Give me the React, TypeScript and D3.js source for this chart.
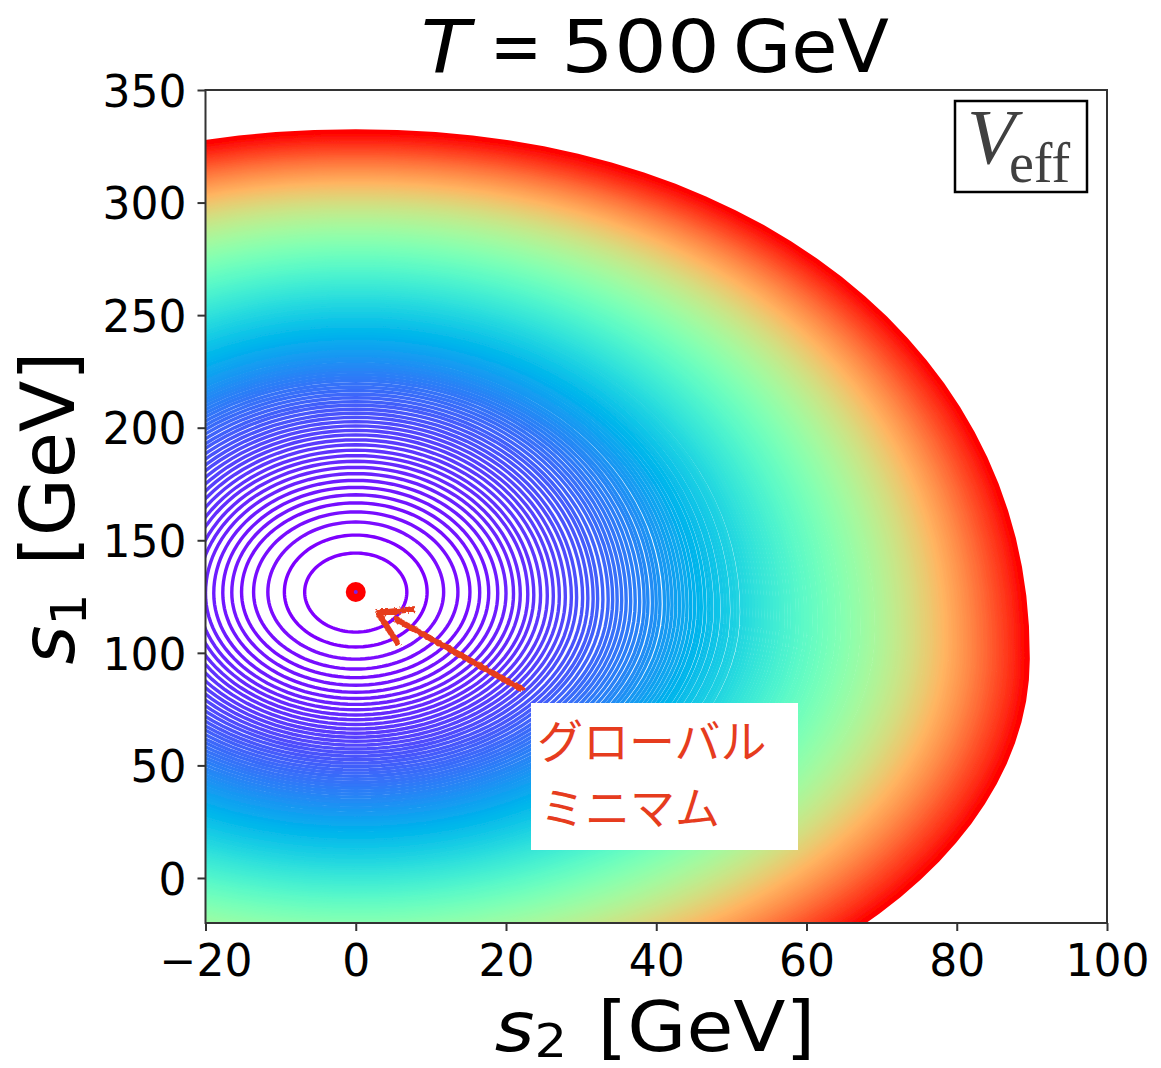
import React, { useRef, useEffect } from "react";
import * as d3 from "d3";

const WIDTH = 1161;
const HEIGHT = 1068;
const margin = { left: 205.5, right: 1107, top: 90, bottom: 923 };

const xDomain = [-20, 100];
const yDomain = [-20, 350];
const xTicks = [-20, 0, 20, 40, 60, 80, 100];
const yTicks = [0, 50, 100, 150, 200, 250, 300, 350];

// contour rings, innermost first: half width in s2 (GeV)
const ringHalfWidth = [
  6.8, 9.5, 11.7, 13.6, 15.2, 16.5, 17.7, 18.9, 20.0, 21.0,
  21.9, 22.9, 23.7, 24.6, 25.5, 26.3, 27.1, 27.9, 28.7, 29.4,
  30.2, 30.9, 31.6, 32.2, 32.9, 33.6, 34.2, 34.8, 35.4, 36.0,
  36.6, 37.2, 37.8, 38.4, 38.9, 39.5, 40.0, 40.5, 41.1, 41.6,
  42.1, 42.6, 43.1, 43.6, 44.1, 44.6, 45.1, 45.6, 46.0, 46.5,
  47.0, 47.4, 47.9, 48.3, 48.8, 49.2, 49.6, 50.1, 50.5, 50.9,
  51.4, 51.8, 52.2, 52.6, 53.0, 53.4, 53.8, 54.2, 54.6, 55.0,
  55.4, 55.8, 56.2, 56.6, 56.9, 57.3, 57.7, 58.1, 58.4, 58.8,
  59.2, 59.5, 59.9, 60.3, 60.6, 61.0, 61.3, 61.7, 62.0, 62.4,
  62.7, 63.1, 63.4, 63.7, 64.1, 64.4, 64.8, 65.1, 65.4, 65.7,
  66.1, 66.4, 66.7, 67.0, 67.4, 67.7, 68.0, 68.3, 68.6, 68.9,
  69.3, 69.6, 69.9, 70.2, 70.5, 70.8, 71.1, 71.4, 71.7, 72.0,
  72.3, 72.6, 72.9, 73.2, 73.5, 73.8, 74.1, 74.4, 74.7, 75.0,
  75.3, 75.5, 75.8, 76.1, 76.4, 76.7, 77.0, 77.2, 77.5, 77.8,
  78.1, 78.3, 78.6, 78.8, 79.1, 79.3, 79.6, 79.8, 80.1, 80.3,
  80.6, 80.8, 81.1, 81.3, 81.6, 81.8, 82.1, 82.3, 82.6, 82.8,
  83.0, 83.3, 83.5, 83.8, 84.0, 84.3, 84.5, 84.7, 85.0, 85.2,
  85.5, 85.7, 85.9, 86.2, 86.4, 86.6, 86.9, 87.1, 87.3, 87.6,
  87.8, 88.0, 88.2, 88.4, 88.6, 88.7, 88.9, 89.1, 89.3, 89.5,
];

// highest s1 of each ring (GeV)
const ringTop = [
  144.3, 152.3, 158.1, 162.6, 166.6, 170.2, 173.5, 176.6, 179.6, 182.4,
  185.1, 187.6, 190.0, 192.4, 194.6, 196.8, 198.8, 200.8, 202.7, 204.6,
  206.4, 208.2, 210.0, 211.6, 213.3, 214.9, 216.5, 218.0, 219.5, 221.0,
  222.3, 223.6, 224.9, 226.1, 227.3, 228.5, 229.7, 230.9, 232.1, 233.2,
  234.3, 235.4, 236.5, 237.6, 238.7, 239.8, 240.9, 242.0, 243.1, 244.2,
  245.2, 246.3, 247.3, 248.4, 249.4, 250.4, 251.4, 252.3, 253.3, 254.2,
  255.2, 256.1, 257.0, 257.9, 258.8, 259.7, 260.5, 261.4, 262.2, 263.1,
  263.9, 264.7, 265.5, 266.3, 267.1, 267.9, 268.6, 269.4, 270.1, 270.9,
  271.6, 272.3, 273.1, 273.8, 274.5, 275.2, 275.9, 276.5, 277.2, 277.9,
  278.6, 279.2, 279.9, 280.6, 281.2, 281.8, 282.5, 283.1, 283.7, 284.3,
  284.9, 285.6, 286.2, 286.8, 287.4, 288.0, 288.6, 289.2, 289.8, 290.4,
  291.0, 291.6, 292.2, 292.8, 293.4, 294.0, 294.6, 295.2, 295.8, 296.4,
  297.0, 297.6, 298.1, 298.7, 299.3, 299.9, 300.4, 301.0, 301.6, 302.1,
  302.7, 303.3, 303.8, 304.4, 304.9, 305.5, 306.0, 306.6, 307.1, 307.7,
  308.2, 308.8, 309.3, 309.8, 310.3, 310.8, 311.3, 311.8, 312.3, 312.8,
  313.3, 313.8, 314.3, 314.8, 315.3, 315.8, 316.3, 316.8, 317.3, 317.8,
  318.3, 318.8, 319.3, 319.8, 320.2, 320.7, 321.2, 321.6, 322.1, 322.6,
  323.0, 323.5, 324.0, 324.4, 324.9, 325.4, 325.8, 326.3, 326.8, 327.2,
  327.7, 328.2, 328.6, 329.1, 329.6, 330.0, 330.5, 330.9, 331.4, 331.8,
];

// lowest s1 of each ring (GeV), the outer ones run below the frame
const ringBottom = [
  109.2, 102.6, 97.2, 92.8, 89.0, 85.6, 82.5, 79.7, 77.1, 74.7,
  72.4, 70.3, 68.2, 66.2, 64.3, 62.5, 60.7, 59.0, 57.3, 55.7,
  54.1, 52.5, 51.0, 49.5, 48.0, 46.6, 45.2, 43.8, 42.4, 41.1,
  39.8, 38.5, 37.2, 35.9, 34.7, 33.5, 32.3, 31.1, 30.0, 28.8,
  27.7, 26.6, 25.5, 24.4, 23.3, 22.2, 21.1, 20.0, 19.0, 17.9,
  16.9, 15.8, 14.8, 13.7, 12.7, 11.7, 10.7, 9.8, 8.9, 8.0,
  7.1, 6.2, 5.4, 4.5, 3.7, 2.8, 2.0, 1.2, 0.4, -0.4,
  -1.2, -2.0, -2.8, -3.6, -4.3, -5.1, -5.8, -6.5, -7.3, -8.0,
  -8.7, -9.4, -10.1, -10.8, -11.5, -12.2, -12.9, -13.6, -14.3, -15.0,
  -15.6, -16.3, -17.0, -17.7, -18.4, -19.1, -19.7, -20.4, -21.1, -21.7,
  -22.4, -23.1, -23.7, -24.4, -25.1, -25.7, -26.4, -27.1, -27.7, -28.4,
  -29.1, -29.7, -30.4, -31.1, -31.7, -32.4, -33.1, -33.7, -34.4, -35.1,
  -35.7, -36.4, -37.1, -37.7, -38.4, -39.1, -39.7, -40.4, -41.1, -41.7,
  -42.4, -43.1, -43.7, -44.4, -45.1, -45.7, -46.4, -47.1, -47.7, -48.4,
  -49.1, -49.7, -50.4, -51.1, -51.7, -52.4, -53.1, -53.7, -54.4, -55.1,
  -55.7, -56.4, -57.1, -57.7, -58.4, -59.1, -59.7, -60.4, -61.1, -61.7,
  -62.4, -63.1, -63.7, -64.4, -65.1, -65.7, -66.4, -67.1, -67.7, -68.4,
  -69.1, -69.7, -70.4, -71.1, -71.7, -72.4, -73.1, -73.7, -74.4, -75.1,
  -75.7, -76.4, -77.1, -77.7, -78.4, -79.1, -79.7, -80.4, -81.1, -81.7,
];

// s1 where each ring is widest (GeV)
const ringWaist = [
  127.0, 127.0, 127.0, 127.0, 127.0, 126.8, 126.7, 126.5, 126.4, 126.2,
  126.0, 125.9, 125.7, 125.6, 125.4, 125.2, 125.1, 124.9, 124.8, 124.6,
  124.4, 124.3, 124.1, 124.0, 123.8, 123.6, 123.5, 123.3, 123.2, 123.0,
  122.8, 122.7, 122.5, 122.4, 122.2, 122.0, 121.9, 121.7, 121.6, 121.4,
  121.2, 121.1, 120.9, 120.8, 120.6, 120.4, 120.3, 120.1, 120.0, 119.8,
  119.6, 119.5, 119.3, 119.2, 119.0, 118.8, 118.7, 118.5, 118.4, 118.2,
  118.0, 117.9, 117.7, 117.6, 117.4, 117.2, 117.1, 116.9, 116.8, 116.6,
  116.4, 116.3, 116.1, 116.0, 115.8, 115.6, 115.5, 115.3, 115.2, 115.0,
  114.8, 114.7, 114.5, 114.4, 114.2, 114.0, 113.9, 113.7, 113.6, 113.4,
  113.2, 113.1, 112.9, 112.8, 112.6, 112.4, 112.3, 112.1, 112.0, 111.8,
  111.6, 111.5, 111.3, 111.2, 111.0, 110.8, 110.7, 110.5, 110.4, 110.2,
  110.0, 109.9, 109.7, 109.6, 109.4, 109.2, 109.1, 108.9, 108.8, 108.6,
  108.4, 108.3, 108.1, 108.0, 107.8, 107.6, 107.5, 107.3, 107.2, 107.0,
  106.8, 106.7, 106.5, 106.4, 106.2, 106.0, 105.9, 105.7, 105.6, 105.4,
  105.2, 105.1, 104.9, 104.8, 104.6, 104.4, 104.3, 104.1, 104.0, 103.8,
  103.6, 103.5, 103.3, 103.2, 103.0, 102.8, 102.7, 102.5, 102.4, 102.2,
  102.0, 101.9, 101.7, 101.6, 101.4, 101.2, 101.1, 100.9, 100.8, 100.6,
  100.4, 100.3, 100.1, 100.0, 99.8, 99.6, 99.5, 99.3, 99.2, 99.0,
  98.8, 98.7, 98.5, 98.4, 98.2, 98.0, 97.9, 97.7, 97.6, 97.4,
];

const globalMinimum = [0, 127];

// hand drawn arrow, in data units
const arrowShaft = [
  [22.3, 83.5],
  [5.0, 115.5],
];
const arrowHead = [
  [7.9, 119.5],
  [3.0, 117.7],
  [5.7, 103.5],
];

const noteLines = ["グローバル", "ミニマム"];
const angles = d3.range(0, 120).map((i) => (i / 120) * 2 * Math.PI);

// matplotlib's "rainbow" colormap
const rainbow = (t: number) =>
  d3
    .rgb(
      255 * Math.min(1, Math.abs(2 * t - 0.5)),
      255 * Math.sin(Math.PI * t),
      255 * Math.cos((Math.PI * t) / 2)
    )
    .formatRgb();

const App = () => {
  const d3Container = useRef<SVGSVGElement | null>(null);

  useEffect(() => {
    if (!d3Container.current) return;
    const svg = d3.select(d3Container.current);
    svg.selectAll("*").remove();

    const x = d3.scaleLinear().domain(xDomain).range([margin.left, margin.right]);
    const y = d3.scaleLinear().domain(yDomain).range([margin.bottom, margin.top]);

    const defs = svg.append("defs");
    defs
      .append("clipPath")
      .attr("id", "plotClip")
      .append("rect")
      .attr("x", margin.left)
      .attr("y", margin.top)
      .attr("width", margin.right - margin.left)
      .attr("height", margin.bottom - margin.top);
    defs
      .append("filter")
      .attr("id", "soft")
      .attr("x", "-5%")
      .attr("y", "-5%")
      .attr("width", "110%")
      .attr("height", "110%")
      .append("feGaussianBlur")
      .attr("stdDeviation", 0.65);
    const rough = defs
      .append("filter")
      .attr("id", "rough")
      .attr("x", "-10%")
      .attr("y", "-10%")
      .attr("width", "120%")
      .attr("height", "120%");
    rough
      .append("feTurbulence")
      .attr("type", "fractalNoise")
      .attr("baseFrequency", 0.25)
      .attr("numOctaves", 2)
      .attr("seed", 4)
      .attr("result", "n");
    rough
      .append("feDisplacementMap")
      .attr("in", "SourceGraphic")
      .attr("in2", "n")
      .attr("scale", 6);

    // contour rings, low levels first. Upper half of the outer rings is a bit squarer
    const ringLine = d3.line<number>().curve(d3.curveLinearClosed);
    const plot = svg.append("g").attr("clip-path", "url(#plotClip)");
    const rings = plot.append("g").attr("filter", "url(#soft)");
    rings
      .selectAll("path")
      .data(ringHalfWidth)
      .enter()
      .append("path")
      .attr("fill", "none")
      .attr("stroke-width", 3.4)
      .attr("stroke", (_, i) => rainbow(i / (ringHalfWidth.length - 1)))
      .attr("d", (a, i) => {
        const up = ringTop[i] - ringWaist[i];
        const down = ringWaist[i] - ringBottom[i];
        const power = 2 / (2 + (0.12 * i) / (ringHalfWidth.length - 1));
        return ringLine
          .x((t) => {
            const c = Math.cos(t);
            const upper = Math.sin(t) > 0;
            return x(a * Math.sign(c) * Math.pow(Math.abs(c), upper ? power : 1));
          })
          .y((t) => {
            const s = Math.sin(t);
            return y(s > 0 ? ringWaist[i] + up * Math.pow(s, power) : ringWaist[i] + down * s);
          })(angles);
      });

    // global minimum marker
    plot
      .append("circle")
      .attr("cx", x(globalMinimum[0]))
      .attr("cy", y(globalMinimum[1]))
      .attr("r", 10)
      .attr("fill", "#ff0000");
    plot
      .append("circle")
      .attr("cx", x(globalMinimum[0]))
      .attr("cy", y(globalMinimum[1]))
      .attr("r", 2)
      .attr("fill", "#7a22e8");

    // frame
    svg
      .append("rect")
      .attr("x", margin.left)
      .attr("y", margin.top)
      .attr("width", margin.right - margin.left)
      .attr("height", margin.bottom - margin.top)
      .attr("fill", "none")
      .attr("stroke", "#333")
      .attr("stroke-width", 2);

    // axes
    const xAxis = svg
      .append("g")
      .attr("transform", `translate(0,${margin.bottom})`)
      .call(d3.axisBottom(x).tickValues(xTicks).tickSize(8).tickSizeOuter(0).tickPadding(14));
    const yAxis = svg
      .append("g")
      .attr("transform", `translate(${margin.left},0)`)
      .call(d3.axisLeft(y).tickValues(yTicks).tickSize(8).tickSizeOuter(0).tickPadding(11));
    [xAxis, yAxis].forEach((axis) => {
      axis.select(".domain").remove();
      axis.selectAll("line").attr("stroke", "#333").attr("stroke-width", 2);
      axis
        .selectAll("text")
        .attr("font-family", "DejaVu Sans")
        .attr("font-size", 44)
        .attr("fill", "#000");
    });
    yAxis.selectAll("text").attr("dy", "0.37em");

    // title, placed piece by piece since mathtext spacing differs
    const titleParts = [
      { text: "T", at: 421, italic: true, sx: 1.1 },
      { text: "=", at: 490, italic: false, sx: 0.85 },
      { text: "500", at: 561, italic: false, sx: 1.14 },
      { text: "GeV", at: 733, italic: false, sx: 1.03 },
    ];
    svg
      .selectAll("text.title")
      .data(titleParts)
      .enter()
      .append("text")
      .attr("class", "title")
      .attr("transform", (d) => `translate(${d.at},72) scale(${d.sx},1)`)
      .attr("font-family", "DejaVu Sans")
      .attr("font-style", (d) => (d.italic ? "italic" : "normal"))
      .attr("font-size", 73)
      .attr("fill", "#000")
      .text((d) => d.text);

    const xLabel = svg
      .append("text")
      .attr("transform", "translate(655,1051) scale(1.09,1)")
      .attr("text-anchor", "middle")
      .attr("font-family", "DejaVu Sans")
      .attr("font-size", 70)
      .attr("fill", "#000");
    xLabel.append("tspan").attr("font-style", "italic").text("s");
    xLabel.append("tspan").attr("font-size", 47).attr("dy", 5.7).text("2");
    xLabel.append("tspan").attr("dy", -5.7).attr("dx", 28).text("[GeV]");

    const yLabel = svg
      .append("text")
      .attr("transform", "translate(74,508) rotate(-90)")
      .attr("text-anchor", "middle")
      .attr("font-family", "DejaVu Sans")
      .attr("font-size", 75)
      .attr("fill", "#000");
    yLabel.append("tspan").attr("font-style", "italic").text("s");
    yLabel.append("tspan").attr("font-size", 50).attr("dy", 12).text("1");
    yLabel.append("tspan").attr("dy", -12).attr("dx", 28).text("[GeV]");

    // V_eff box
    svg
      .append("rect")
      .attr("x", 955)
      .attr("y", 101)
      .attr("width", 132)
      .attr("height", 91)
      .attr("fill", "#fff")
      .attr("stroke", "#000")
      .attr("stroke-width", 2.5);
    svg
      .append("text")
      .attr("x", 967)
      .attr("y", 163)
      .attr("font-family", "Liberation Serif")
      .attr("font-style", "italic")
      .attr("font-size", 79)
      .attr("fill", "#404040")
      .text("V");
    svg
      .append("text")
      .attr("x", 1009)
      .attr("y", 182)
      .attr("font-family", "Liberation Serif")
      .attr("font-size", 56)
      .attr("fill", "#404040")
      .text("eff");

    // arrow and note pasted on top
    const arrowLine = d3
      .line<number[]>()
      .x((d) => x(d[0]))
      .y((d) => y(d[1]));
    const arrow = svg
      .append("g")
      .attr("filter", "url(#rough)")
      .attr("fill", "none")
      .attr("stroke", "#e63c1e")
      .attr("stroke-width", 6)
      .attr("stroke-linejoin", "round");
    arrow.append("path").attr("d", arrowLine(arrowShaft));
    arrow.append("path").attr("d", arrowLine(arrowHead));

    svg
      .append("rect")
      .attr("x", 531)
      .attr("y", 703)
      .attr("width", 267)
      .attr("height", 147)
      .attr("fill", "#fff");
    svg
      .selectAll("text.note")
      .data(noteLines)
      .enter()
      .append("text")
      .attr("class", "note")
      .attr("x", (_, i) => (i === 0 ? 537 : 540))
      .attr("y", (_, i) => (i === 0 ? 758 : 825))
      .attr("font-family", "Noto Sans CJK JP")
      .attr("font-size", (_, i) => (i === 0 ? 46 : 45))
      .attr("fill", "#e63c1e")
      .text((d) => d);
  }, []);

  return (
    <svg
      ref={d3Container}
      width={WIDTH}
      height={HEIGHT}
      style={{ position: "absolute", left: 0, top: 0, background: "#fff" }}
    />
  );
};

export default App;
